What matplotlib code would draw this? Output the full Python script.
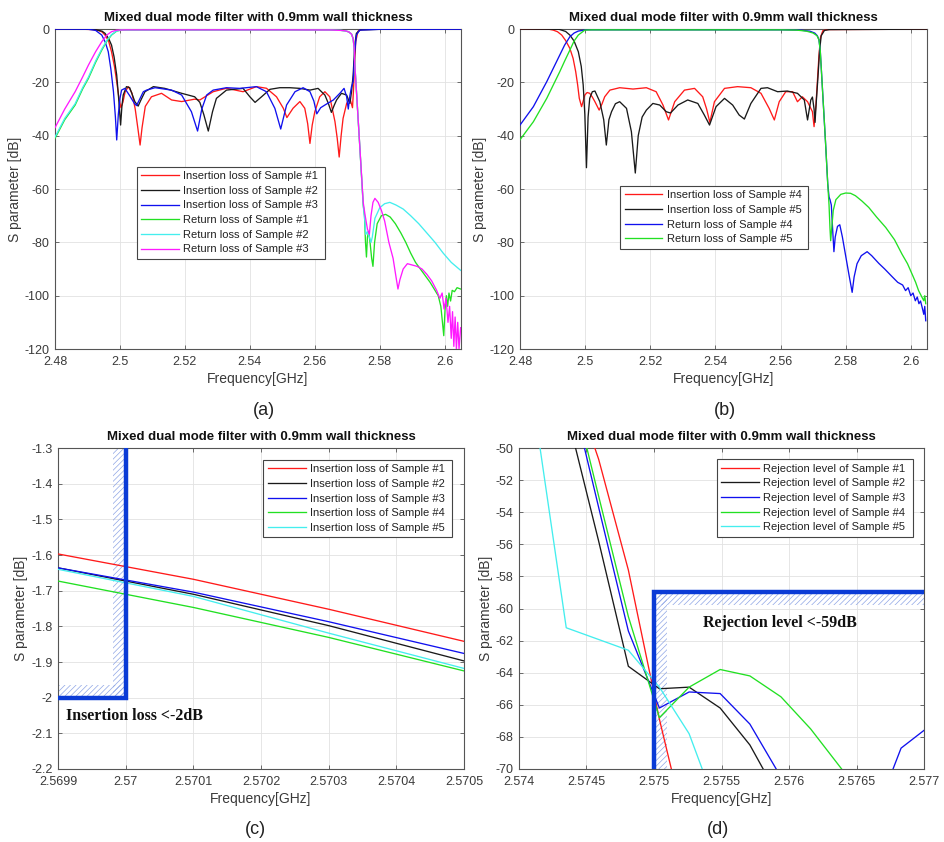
import matplotlib
matplotlib.use('Agg')
import matplotlib.pyplot as plt
from matplotlib.patches import Rectangle

plt.rcParams['font.family'] = ['Liberation Sans', 'DejaVu Sans']
plt.rcParams['hatch.linewidth'] = 0.5

TITLE = 'Mixed dual mode filter with 0.9mm wall thickness'
XLABEL = 'Frequency[GHz]'
YLABEL = 'S parameter [dB]'

# ---------------- panel (a) data: (frequency GHz, dB) ----------------
a_il1 = [(2.480, -0.02), (2.488, -0.05), (2.4915, -0.2), (2.4935, -0.6), (2.4945, -1.1), (2.4954, -2.25),
         (2.4965, -4.5), (2.4974, -8.5), (2.4983, -14), (2.4990, -19.75), (2.4997, -26), (2.5003, -29.5),
         (2.5009, -27.5), (2.5016, -23.5), (2.5026, -21.6), (2.5037, -24), (2.5047, -30), (2.5056, -38),
         (2.5062, -43.5), (2.5068, -37), (2.5078, -29), (2.5097, -25.4), (2.5128, -24.1), (2.5159, -26.6),
         (2.5190, -27.2), (2.5230, -26.3), (2.5246, -26.6), (2.5287, -23.5), (2.5328, -22.2), (2.5379, -23.5),
         (2.5420, -21.6), (2.5451, -22.2), (2.5482, -25.4), (2.5503, -29.7), (2.5514, -33.2), (2.5533, -29.7),
         (2.5554, -27.2), (2.5569, -29.7), (2.5578, -35.5), (2.5585, -42.9), (2.5592, -36), (2.5600, -31),
         (2.5615, -25.4), (2.5631, -23.5), (2.5646, -25.4), (2.5662, -34.7), (2.5669, -41), (2.5675, -48),
         (2.5681, -40), (2.5687, -33.5), (2.5698, -27.9), (2.5708, -26), (2.5716, -29.5), (2.5719, -23),
         (2.5721, -17.2), (2.5726, -4.7), (2.5733, -0.75), (2.5745, -0.2), (2.5800, -0.05), (2.6050, -0.02)]
a_il2 = [(2.480, -0.02), (2.492, -0.1), (2.4945, -0.8), (2.4954, -1.6), (2.4965, -3.5), (2.4974, -6),
         (2.4982, -10.5), (2.4990, -17.25), (2.4996, -26), (2.5002, -36), (2.5006, -29), (2.5010, -24.75),
         (2.5020, -21.6), (2.5030, -22), (2.5046, -27.25), (2.5056, -28.9), (2.5065, -26.5), (2.5077, -23.5),
         (2.5103, -21.6), (2.5138, -22.25), (2.5190, -24.1), (2.5230, -25.4), (2.5246, -27.5), (2.5258, -32),
         (2.5272, -38.25), (2.5285, -31), (2.5297, -26), (2.5328, -22.9), (2.5379, -22.25), (2.5400, -25.4),
         (2.5416, -27.5), (2.5436, -25.4), (2.5462, -22.6), (2.5492, -22), (2.5523, -22), (2.5554, -22.25),
         (2.5585, -22.9), (2.5610, -22.25), (2.5631, -24.75), (2.5642, -28), (2.5651, -31.25), (2.5660, -28.5),
         (2.5667, -26.6), (2.5682, -24.1), (2.5698, -24.75), (2.5708, -27.9), (2.5713, -23.5), (2.5718, -17.25),
         (2.5723, -6), (2.5728, -1.6), (2.5740, -0.3), (2.5800, -0.1), (2.6050, -0.05)]
a_il3 = [(2.480, -0.02), (2.490, -0.05), (2.4925, -0.5), (2.4944, -2.25), (2.4955, -5), (2.4964, -8.5),
         (2.4972, -15), (2.4980, -23.5), (2.4986, -33), (2.4990, -41.6), (2.4995, -32), (2.5000, -26),
         (2.5005, -22.9), (2.5015, -22.25), (2.5030, -25), (2.5045, -28), (2.5051, -28.7), (2.5060, -26.5),
         (2.5072, -23.5), (2.5082, -22.9), (2.5108, -22), (2.5159, -22.9), (2.5190, -24.75), (2.5220, -31),
         (2.5239, -38.25), (2.5252, -30), (2.5267, -24.75), (2.5287, -22.9), (2.5328, -22), (2.5369, -22.25),
         (2.5420, -21.6), (2.5451, -23.5), (2.5477, -29.75), (2.5495, -37.5), (2.5513, -28.5), (2.5539, -23.5),
         (2.5564, -22), (2.5585, -23.5), (2.5597, -27), (2.5606, -31.8), (2.5618, -29.5), (2.5631, -28.5),
         (2.5657, -26.6), (2.5677, -24.1), (2.5690, -22.25), (2.5698, -25.4), (2.5703, -30), (2.5708, -25),
         (2.5713, -21.6), (2.5718, -19.75), (2.5723, -8.5), (2.5728, -2.25), (2.5738, -0.4), (2.5800, -0.1),
         (2.6050, -0.05)]
a_rl1 = [(2.480, -41), (2.483, -34), (2.4862, -28.5), (2.4885, -22.5), (2.4903, -18.5), (2.4925, -12.5),
         (2.4944, -7.9), (2.4960, -4.5), (2.4974, -2.25), (2.4990, -0.75), (2.5005, -0.35), (2.5500, -0.3),
         (2.5650, -0.35), (2.5680, -0.5), (2.5695, -0.7), (2.5705, -1.1), (2.5713, -1.9), (2.5718, -3.6),
         (2.5721, -7), (2.5723, -13), (2.5736, -39), (2.5749, -66), (2.5753, -70), (2.5756, -80),
         (2.5759, -85.5), (2.5762, -78), (2.5766, -76), (2.5770, -80), (2.5775, -86), (2.5779, -89),
         (2.5784, -80), (2.5792, -73), (2.5805, -70), (2.5818, -69.5), (2.5832, -70.5), (2.5848, -73),
         (2.5865, -76.5), (2.5880, -80), (2.5895, -84), (2.5910, -87.5), (2.5925, -90), (2.5940, -92.5),
         (2.5955, -95), (2.5970, -98), (2.5980, -100), (2.5988, -104), (2.5993, -110), (2.5997, -115),
         (2.6001, -105), (2.6005, -100), (2.6009, -104), (2.6013, -99), (2.6018, -102), (2.6023, -98),
         (2.6030, -98.5), (2.6038, -97), (2.6049, -97.5)]
a_rl2 = [(2.480, -40.5), (2.483, -33.5), (2.4862, -28), (2.4885, -22), (2.4903, -18), (2.4925, -12),
         (2.4944, -7.5), (2.4960, -4.2), (2.4974, -2.1), (2.4990, -0.7), (2.5005, -0.35), (2.5500, -0.3),
         (2.5650, -0.35), (2.5680, -0.5), (2.5695, -0.7), (2.5705, -1.1), (2.5713, -1.9), (2.5718, -3.6),
         (2.5721, -7), (2.5723, -13), (2.5736, -39), (2.5749, -66), (2.5754, -72), (2.5757, -77),
         (2.5762, -76), (2.5768, -78), (2.5773, -80), (2.5777, -78), (2.5785, -71), (2.5800, -67),
         (2.5815, -65.5), (2.5831, -65), (2.5850, -66), (2.5872, -67.5), (2.5895, -70), (2.5920, -73),
         (2.5945, -76.5), (2.5970, -80), (2.5995, -84), (2.6020, -87.5), (2.6049, -90.5)]
a_rl3 = [(2.480, -37), (2.483, -30), (2.4862, -23.5), (2.4885, -18), (2.4903, -13.5), (2.4925, -8.5),
         (2.4944, -4.75), (2.4960, -2.2), (2.4974, -1), (2.4990, -0.4), (2.5020, -0.3), (2.5500, -0.3),
         (2.5650, -0.35), (2.5680, -0.5), (2.5695, -0.7), (2.5705, -1.1), (2.5713, -1.9), (2.5718, -3.6),
         (2.5721, -7), (2.5723, -13), (2.5736, -39), (2.5749, -65), (2.5755, -70), (2.5762, -75),
         (2.5768, -77), (2.5773, -70), (2.5779, -65), (2.5785, -63.5), (2.5795, -65), (2.5805, -68),
         (2.5815, -72), (2.5828, -80), (2.5841, -86), (2.5850, -93), (2.5856, -97.5), (2.5862, -94),
         (2.5872, -90), (2.5885, -88), (2.5900, -88.5), (2.5915, -89), (2.5930, -90), (2.5945, -92),
         (2.5960, -94.5), (2.5975, -98), (2.5985, -101), (2.5992, -99), (2.5998, -105), (2.6004, -101),
         (2.6010, -110), (2.6015, -104), (2.6020, -116), (2.6024, -106), (2.6028, -119), (2.6032, -108),
         (2.6036, -120), (2.6040, -110), (2.6044, -120), (2.6049, -112)]
a_labels = ['Insertion loss of Sample #1', 'Insertion loss of Sample #2', 'Insertion loss of Sample #3',
            'Return loss of Sample #1', 'Return loss of Sample #2', 'Return loss of Sample #3']

# ---------------- panel (b) data ----------------
b_il4 = [(2.480, -0.02), (2.489, -0.1), (2.4902, -0.4), (2.4915, -1.0), (2.4928, -2.25), (2.4940, -4.3),
         (2.4953, -7.25), (2.4963, -11), (2.4971, -16), (2.4977, -21), (2.4982, -26), (2.4989, -29.1),
         (2.4994, -27), (2.4999, -24.75), (2.5006, -23.8), (2.5014, -24.1), (2.5022, -25.5), (2.5030, -27.25),
         (2.5043, -30.4), (2.5052, -28), (2.5060, -25.4), (2.5076, -22.9), (2.5106, -22), (2.5147, -22.5),
         (2.5188, -22), (2.5218, -23.5), (2.5239, -28.5), (2.5256, -34.1), (2.5275, -27.25), (2.5305, -22.9),
         (2.5336, -22.25), (2.5361, -25.4), (2.5373, -30), (2.5383, -35), (2.5397, -27.25), (2.5428, -22.25),
         (2.5468, -21.6), (2.5509, -22), (2.5540, -24.1), (2.5565, -29.75), (2.5581, -34.1), (2.5596, -27.25),
         (2.5616, -23.5), (2.5637, -23.5), (2.5652, -27.25), (2.5667, -25.4), (2.5683, -27.25), (2.5698, -31),
         (2.5703, -36.6), (2.5709, -28), (2.5713, -20), (2.5718, -10), (2.5723, -3), (2.5730, -0.6),
         (2.5745, -0.2), (2.6050, -0.05)]
b_il5 = [(2.480, -0.02), (2.492, -0.1), (2.4940, -0.9), (2.4953, -2.25), (2.4966, -4.5), (2.4979, -8.5),
         (2.4988, -14), (2.4994, -21), (2.4999, -32), (2.5004, -52), (2.5009, -33), (2.5014, -26),
         (2.5022, -23.5), (2.5030, -23.25), (2.5045, -27.25), (2.5057, -34), (2.5065, -43.5), (2.5073, -34),
         (2.5081, -31), (2.5093, -28), (2.5106, -27.25), (2.5127, -29.75), (2.5142, -38.5), (2.5154, -54),
         (2.5163, -40), (2.5175, -33), (2.5188, -30.4), (2.5208, -27.9), (2.5229, -28.5), (2.5249, -31),
         (2.5262, -31.5), (2.5285, -28.5), (2.5315, -26.6), (2.5346, -27.9), (2.5366, -32.25), (2.5382, -36),
         (2.5402, -29.1), (2.5428, -26), (2.5453, -28.5), (2.5473, -32.25), (2.5489, -33.75), (2.5509, -27.9),
         (2.5540, -22.25), (2.5560, -22), (2.5591, -23.5), (2.5621, -23.25), (2.5652, -24.1), (2.5673, -26.6),
         (2.5683, -34.1), (2.5693, -26.6), (2.5698, -25.5), (2.5703, -30), (2.5706, -35), (2.5710, -27),
         (2.5715, -18), (2.5720, -8), (2.5725, -2.5), (2.5735, -0.5), (2.5750, -0.2), (2.6050, -0.05)]
b_rl4 = [(2.480, -36), (2.4841, -29.1), (2.4882, -19.75), (2.4922, -9.75), (2.4937, -6), (2.4953, -2.9),
         (2.4966, -1.5), (2.4979, -0.75), (2.5004, -0.3), (2.5600, -0.3), (2.5660, -0.4), (2.5690, -0.8),
         (2.5705, -1.5), (2.5713, -2.5), (2.5718, -4), (2.5722, -8), (2.5730, -25), (2.5738, -42),
         (2.5745, -58), (2.5749, -63), (2.5752, -64), (2.5756, -66), (2.5760, -75), (2.5764, -83.5),
         (2.5768, -78), (2.5775, -74), (2.5782, -73.4), (2.5790, -78), (2.5800, -85), (2.5810, -92),
         (2.5816, -96), (2.5820, -98.75), (2.5826, -93), (2.5835, -88), (2.5848, -85), (2.5866, -83.5),
         (2.5880, -85), (2.5902, -87.9), (2.5920, -90), (2.5943, -92.9), (2.5960, -95), (2.5975, -96),
         (2.5984, -98.1), (2.5992, -97), (2.6000, -100), (2.6007, -99), (2.6014, -101.9), (2.6020, -100.5),
         (2.6025, -103), (2.6030, -102), (2.6035, -104.4), (2.6040, -107), (2.6043, -104), (2.6046, -109.4)]
b_rl5 = [(2.480, -41.5), (2.4841, -34.75), (2.4882, -26), (2.4922, -16), (2.4937, -12), (2.4953, -7.9),
         (2.4966, -4.5), (2.4979, -2.25), (2.4999, -0.4), (2.5020, -0.3), (2.5600, -0.3), (2.5650, -0.4),
         (2.5680, -0.8), (2.5700, -1.5), (2.5712, -2.5), (2.5718, -4), (2.5722, -8), (2.5730, -25),
         (2.5738, -42), (2.5745, -58), (2.5749, -66), (2.5752, -75), (2.5754, -79.4), (2.5757, -75),
         (2.5762, -68), (2.5770, -64), (2.5785, -62), (2.5800, -61.5), (2.5815, -61.6), (2.5830, -62.5),
         (2.5850, -64.5), (2.5871, -66.9), (2.5895, -70.5), (2.5923, -74.4), (2.5950, -79), (2.5973, -84.4),
         (2.5990, -88), (2.6004, -91.9), (2.6015, -95), (2.6024, -98.1), (2.6032, -100), (2.6040, -101.9),
         (2.6043, -100), (2.6046, -103)]
b_labels = ['Insertion loss of Sample #4', 'Insertion loss of Sample #5',
            'Return loss of Sample #4', 'Return loss of Sample #5']

# ---------------- panel (c) data ----------------
c_il1 = [(2.5699, -1.597), (2.5701, -1.668), (2.5703, -1.752), (2.5705, -1.842)]
c_il2 = [(2.5699, -1.636), (2.5701, -1.710), (2.5703, -1.798), (2.5705, -1.897)]
c_il3 = [(2.5699, -1.636), (2.5701, -1.704), (2.5703, -1.787), (2.5705, -1.876)]
c_il4 = [(2.5699, -1.673), (2.5701, -1.747), (2.5703, -1.831), (2.5705, -1.925)]
c_il5 = [(2.5699, -1.640), (2.5701, -1.716), (2.5703, -1.819), (2.5705, -1.918)]
c_labels = ['Insertion loss of Sample #1', 'Insertion loss of Sample #2', 'Insertion loss of Sample #3',
            'Insertion loss of Sample #4', 'Insertion loss of Sample #5']
c_spec_f = 2.57
c_spec_db = -2.0

# ---------------- panel (d) data ----------------
d_rj1 = [(2.57436, -45), (2.57459, -50.7), (2.57481, -57.6), (2.57504, -66.9), (2.57526, -74.6)]
d_rj2 = [(2.57436, -48), (2.57459, -55.8), (2.57481, -63.6), (2.57504, -65.0), (2.57526, -64.9),
         (2.57549, -66.2), (2.57571, -68.5), (2.57594, -72)]
d_rj3 = [(2.57436, -45.6), (2.57459, -53.7), (2.57481, -61.4), (2.57504, -66.2), (2.57526, -65.2),
         (2.57549, -65.3), (2.57571, -67.2), (2.57594, -70.5), (2.57616, -76), (2.57639, -79),
         (2.57661, -73.5), (2.57683, -68.7), (2.57706, -67.2)]
d_rj4 = [(2.57436, -45.1), (2.57459, -53.0), (2.57481, -60.5), (2.57504, -66.8), (2.57526, -64.9),
         (2.57549, -63.8), (2.57571, -64.2), (2.57594, -65.5), (2.57616, -67.5), (2.57639, -70),
         (2.57661, -73)]
d_rj5 = [(2.57391, -40), (2.57413, -48.5), (2.57435, -61.2), (2.57458, -61.9), (2.57481, -62.6),
         (2.57504, -64.9), (2.57526, -67.8), (2.57549, -73)]
d_labels = ['Rejection level of Sample #1', 'Rejection level of Sample #2', 'Rejection level of Sample #3',
            'Rejection level of Sample #4', 'Rejection level of Sample #5']
d_spec_f = 2.575
d_spec_db = -59.0

RED, BLACK, BLUE, GREEN, CYAN, MAGENTA = '#ff1a1a', '#1a1a1a', '#1010ee', '#22e022', '#44eeee', '#ff1aff'
SPEC = '#0a3bd6'
HATCH = '#8fa6e6'
TXT = '#3a3a3a'

fig = plt.figure(figsize=(9.45, 8.42), dpi=100)


def style(ax, xlim, ylim, xticks, xlabels, yticks, ylabels):
    ax.set_xlim(*xlim)
    ax.set_ylim(*ylim)
    ax.set_xticks(xticks)
    ax.set_xticklabels(xlabels)
    ax.set_yticks(yticks)
    ax.set_yticklabels(ylabels)
    ax.grid(True, color='#e2e2e2', lw=0.6)
    ax.set_axisbelow(True)
    ax.tick_params(direction='in', top=True, right=True, length=3, width=0.6, color='#555555',
                   labelsize=9, labelcolor=TXT, pad=4)
    ax.tick_params(axis='x', pad=5)
    for s in ax.spines.values():
        s.set_color('#555555')
        s.set_linewidth(0.8)
    ax.set_title(TITLE, fontsize=9.5, fontweight='bold', pad=6, color='#111111')
    ax.set_xlabel(XLABEL, fontsize=10, color=TXT, labelpad=3)
    ax.set_ylabel(YLABEL, fontsize=10, color=TXT, labelpad=2)


def plot_pairs(ax, pairs, color, label, lw=0.95):
    f = [p[0] for p in pairs]
    v = [p[1] for p in pairs]
    ax.plot(f, v, color=color, lw=lw, label=label, zorder=3)


def add_legend(ax, x0, y0, w, h):
    leg = ax.legend(loc='upper left', bbox_to_anchor=(x0, y0, w, h), mode='expand', fontsize=8,
                    frameon=True, fancybox=False, framealpha=1, edgecolor='#444444', borderaxespad=0,
                    handlelength=3.4, handletextpad=0.4, labelspacing=0.42, borderpad=0.4)
    leg.get_frame().set_linewidth(0.8)
    for t in leg.get_texts():
        t.set_color('#222222')
    leg.set_zorder(5)


ab_xt = [2.48, 2.50, 2.52, 2.54, 2.56, 2.58, 2.60]
ab_xl = ['2.48', '2.5', '2.52', '2.54', '2.56', '2.58', '2.6']
ab_yt = [-120, -100, -80, -60, -40, -20, 0]
ab_yl = ['-120', '-100', '-80', '-60', '-40', '-20', '0']

# (a)
axa = fig.add_axes([0.0582, 0.5855, 0.4296, 0.3800])
for pairs, col, lab in zip([a_il1, a_il2, a_il3, a_rl1, a_rl2, a_rl3],
                           [RED, BLACK, BLUE, GREEN, CYAN, MAGENTA], a_labels):
    plot_pairs(axa, pairs, col, lab)
style(axa, (2.48, 2.605), (-120, 0), ab_xt, ab_xl, ab_yt, ab_yl)
add_legend(axa, 0.201, 0.29, 0.464, 0.28)

# (b)
axb = fig.add_axes([0.5503, 0.5855, 0.4307, 0.3800])
for pairs, col, lab in zip([b_il4, b_il5, b_rl4, b_rl5], [RED, BLACK, BLUE, GREEN], b_labels):
    plot_pairs(axb, pairs, col, lab)
style(axb, (2.48, 2.605), (-120, 0), ab_xt, ab_xl, ab_yt, ab_yl)
add_legend(axb, 0.246, 0.318, 0.462, 0.192)

# (c)
axc = fig.add_axes([0.0614, 0.0867, 0.4296, 0.3812])
for pairs, col, lab in zip([c_il1, c_il2, c_il3, c_il4, c_il5], [RED, BLACK, BLUE, GREEN, CYAN], c_labels):
    plot_pairs(axc, pairs, col, lab)
c_xt = [2.5699, 2.5700, 2.5701, 2.5702, 2.5703, 2.5704, 2.5705]
c_xl = ['2.5699', '2.57', '2.5701', '2.5702', '2.5703', '2.5704', '2.5705']
c_yt = [-2.2, -2.1, -2.0, -1.9, -1.8, -1.7, -1.6, -1.5, -1.4, -1.3]
c_yl = ['-2.2', '-2.1', '-2', '-1.9', '-1.8', '-1.7', '-1.6', '-1.5', '-1.4', '-1.3']
style(axc, (2.5699, 2.5705), (-2.2, -1.3), c_xt, c_xl, c_yt, c_yl)
axc.add_patch(Rectangle((2.569981, c_spec_db), c_spec_f - 2.569981, 0.7, facecolor='none',
                        edgecolor=HATCH, hatch='//////', lw=0, zorder=2))
axc.add_patch(Rectangle((2.5699, c_spec_db), c_spec_f - 2.5699, 0.035, facecolor='none',
                        edgecolor=HATCH, hatch='//////', lw=0, zorder=2))
axc.plot([2.5699, c_spec_f, c_spec_f], [c_spec_db, c_spec_db, -1.3], color=SPEC, lw=3.2,
         solid_joinstyle='miter', solid_capstyle='butt', zorder=4, clip_on=False)
axc.text(2.569912, -2.051, 'Insertion loss <-2dB', family=['Liberation Serif', 'DejaVu Serif'],
         fontweight='bold', fontsize=11.5, va='center', ha='left', color='#111111')
add_legend(axc, 0.506, 0.724, 0.464, 0.239)

# (d)
axd = fig.add_axes([0.5492, 0.0867, 0.4286, 0.3812])
for pairs, col, lab in zip([d_rj1, d_rj2, d_rj3, d_rj4, d_rj5], [RED, BLACK, BLUE, GREEN, CYAN], d_labels):
    plot_pairs(axd, pairs, col, lab)
d_xt = [2.574, 2.5745, 2.575, 2.5755, 2.576, 2.5765, 2.577]
d_xl = ['2.574', '2.5745', '2.575', '2.5755', '2.576', '2.5765', '2.577']
d_yt = [-70, -68, -66, -64, -62, -60, -58, -56, -54, -52, -50]
d_yl = [str(v) for v in d_yt]
style(axd, (2.574, 2.577), (-70, -50), d_xt, d_xl, d_yt, d_yl)
axd.add_patch(Rectangle((d_spec_f, -70), 0.000094, 11, facecolor='none',
                        edgecolor=HATCH, hatch='//////', lw=0, zorder=2))
axd.add_patch(Rectangle((d_spec_f, -59.78), 2.577 - d_spec_f, 0.78, facecolor='none',
                        edgecolor=HATCH, hatch='//////', lw=0, zorder=2))
axd.plot([d_spec_f, d_spec_f, 2.577], [-70, d_spec_db, d_spec_db], color=SPEC, lw=3.2,
         solid_joinstyle='miter', solid_capstyle='butt', zorder=4, clip_on=False)
axd.text(2.575365, -60.92, 'Rejection level <-59dB', family=['Liberation Serif', 'DejaVu Serif'],
         fontweight='bold', fontsize=11.5, va='center', ha='left', color='#111111')
add_legend(axd, 0.488, 0.726, 0.486, 0.239)

for x, y, s in [(0.279, 0.513, '(a)'), (0.767, 0.513, '(b)'), (0.270, 0.0143, '(c)'), (0.760, 0.0143, '(d)')]:
    fig.text(x, y, s, ha='center', va='center', fontsize=13, color='#222222')

fig.savefig('out.png', dpi=100)
